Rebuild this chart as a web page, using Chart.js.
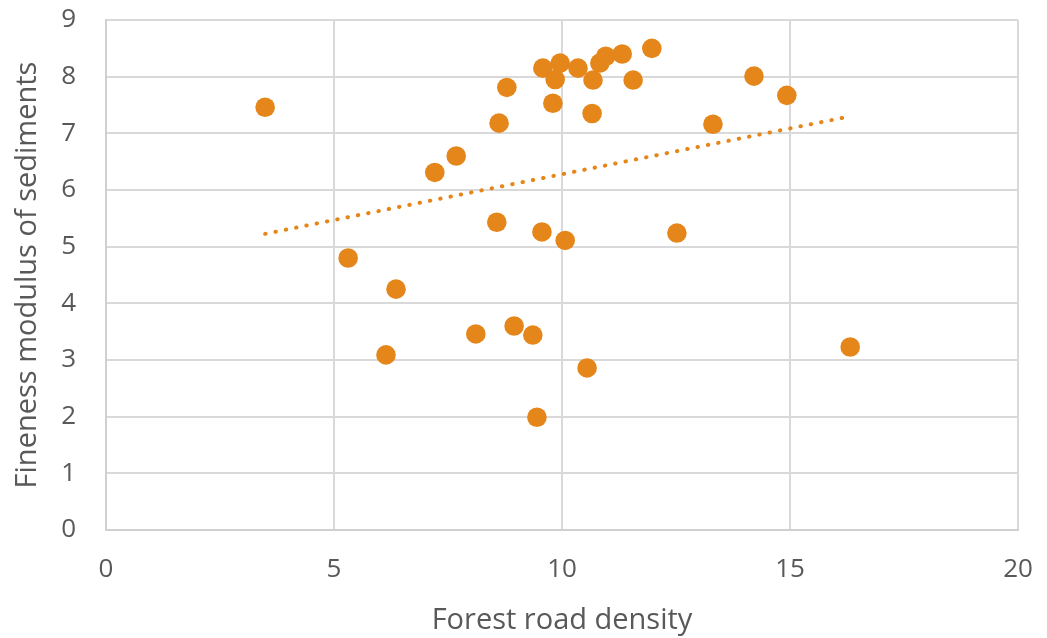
<!DOCTYPE html>
<html>
<head>
<meta charset="utf-8">
<script src="https://cdn.jsdelivr.net/npm/chart.js@4.4.0/dist/chart.umd.min.js"></script>
<style>
html,body{margin:0;padding:0;background:#fff;}
#wrap{width:1047px;height:638px;position:relative;}
</style>
</head>
<body>
<div id="wrap"><canvas id="c"></canvas></div>
<script>
const roadDensity = [3.49,5.31,6.36,6.14,7.21,7.68,8.11,8.57,8.62,8.79,8.95,9.36,9.45,9.56,9.58,9.80,9.85,9.96,10.07,10.35,10.55,10.66,10.68,10.83,10.96,11.32,11.56,11.97,12.52,13.31,14.21,14.93,16.32];
const finenessModulus = [7.46,4.80,4.25,3.09,6.31,6.60,3.46,5.43,7.18,7.81,3.60,3.44,1.99,5.26,8.15,7.53,7.95,8.24,5.11,8.15,2.86,7.35,7.94,8.24,8.36,8.40,7.94,8.50,5.24,7.16,8.01,7.67,3.23];
const xTicks = [0,5,10,15,20];
const yTicks = [0,1,2,3,4,5,6,7,8,9];

// linear least-squares trendline (as the spreadsheet computes it)
const n = roadDensity.length;
const mx = roadDensity.reduce((a,b)=>a+b,0)/n;
const my = finenessModulus.reduce((a,b)=>a+b,0)/n;
let sxy=0,sxx=0;
for(let i=0;i<n;i++){sxy+=(roadDensity[i]-mx)*(finenessModulus[i]-my);sxx+=(roadDensity[i]-mx)**2;}
const slope = sxy/sxx, icpt = my-slope*mx;
const xmin = Math.min(...roadDensity), xmax = Math.max(...roadDensity);
const trend = [{x:xmin,y:icpt+slope*xmin},{x:xmax,y:icpt+slope*xmax}];

const pts = roadDensity.map((x,i)=>({x:x,y:finenessModulus[i]}));
const orange = '#E5861A';
const txt = '#595959';
const font = "'Open Sans', 'Noto Sans', sans-serif";

new Chart(document.getElementById('c'), {
  type:'scatter',
  data:{datasets:[
    {data:pts, backgroundColor:orange, borderColor:orange, pointRadius:9.8, pointHoverRadius:9.8, borderWidth:0, order:1},
    {type:'line', data:trend, showLine:true, borderColor:orange, borderWidth:4, borderDash:[0.5,10], borderCapStyle:'round', pointRadius:0, fill:false, order:2}
  ]},
  options:{
    responsive:true, maintainAspectRatio:false, animation:false,
    layout:{padding:{left:0,right:29,top:20,bottom:0}},
    plugins:{legend:{display:false}, tooltip:{enabled:false}},
    scales:{
      x:{type:'linear', min:0, max:20,
        afterBuildTicks:s=>{s.ticks=xTicks.map(v=>({value:v}));},
        afterFit:s=>{s.height=108; s.paddingLeft=0; s.paddingRight=0;},
        grid:{color:'#D9D9D9', lineWidth:2, drawTicks:false},
        border:{color:'#D0D0D0', width:2},
        ticks:{padding:24, color:txt, font:{family:font,size:26}},
        title:{display:true, text:'Forest road density', color:txt, font:{family:font,size:29}, padding:{top:0,bottom:0}}
      },
      y:{type:'linear', min:0, max:9,
        afterBuildTicks:s=>{s.ticks=yTicks.map(v=>({value:v}));},
        afterFit:s=>{s.width=106; s.paddingTop=0; s.paddingBottom=0;},
        grid:{color:'#D9D9D9', lineWidth:2, drawTicks:false},
        border:{color:'#D0D0D0', width:2},
        ticks:{padding:30, color:txt, font:{family:font,size:26}},
        title:{display:true, text:'Fineness modulus of sediments', color:txt, font:{family:font,size:29}, padding:{top:10,bottom:0}}
      }
    }
  }
});
</script>
</body>
</html>
